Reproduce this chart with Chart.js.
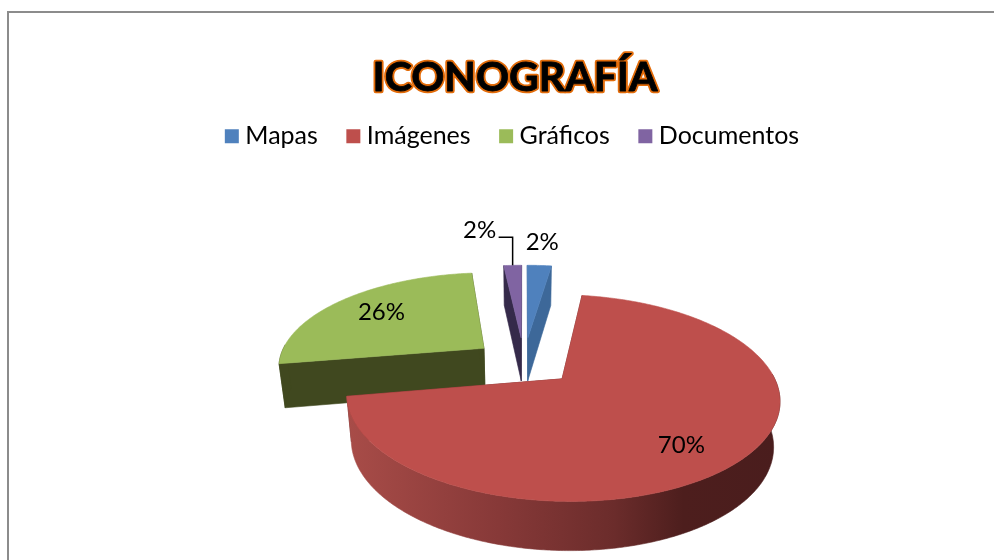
<!DOCTYPE html>
<html lang="es">
<head>
    <meta charset="UTF-8">
    <title>Iconografía</title>
    <script src="https://cdn.jsdelivr.net/npm/chart.js"></script>
    <style>
        html, body { margin: 0; padding: 0; background: #fff; overflow: hidden; }
        body { width: 994px; height: 560px; position: relative; }
        .frame { position: absolute; left: 7px; top: 11px; width: 1100px; height: 700px; border: 2px solid #8c8c8c; }
        canvas { position: absolute; left: 0; top: 0; }
    </style>
</head>
<body>
    <div class="frame"></div>
    <canvas id="pie" width="994" height="560"></canvas>
    <script>
        const categories = ['Mapas', 'Imágenes', 'Gráficos', 'Documentos'];
        const values = [2.3, 70, 26, 1.7];
        const chartTitle = 'ICONOGRAFÍA';

        const topColors = ['#4F81BD', '#BE4F4C', '#9BBB59', '#8064A2'];
        const sideColors = ['#3D6899', '#6B2C2B', '#40481F', '#352A4A'];
        // explosion of each slice, % of the radius
        const explode = [27, 25, 25, 27];
        // where each % label sits: fraction of the radius along the slice middle, then a nudge in px
        const labelRadius = [1.3, 0.8, 0.7, 1.3];
        const labelNudge = [[0, -5], [-21, 4], [-1, -1], [-31, -17]];

        // fake 3D view of the flat pie
        const view = { x: 524, y: 362, rx: 206, ry: 93.6, persp: 0.18, depth: 44, shrink: 0.975 };
        const titleFont = 'bold 41px Lato';

        function project(arc, angle, frac, low) {
            const off = (arc.options.offset || 0) / 100;
            const mid = (arc.startAngle + arc.endAngle) / 2;
            const u = off * Math.cos(mid) + frac * Math.cos(angle);
            const v = -(off * Math.sin(mid) + frac * Math.sin(angle));
            const w = 1 + view.persp * v;
            let x = view.rx * u / w;
            let y = -view.ry * v / w;
            if (low) {
                x *= view.shrink;
                y += view.depth / (1 + view.persp * v / 2);
            }
            return [view.x + x, view.y + y];
        }

        function fillPoly(ctx, pts, fill) {
            ctx.beginPath();
            pts.forEach((p, i) => i ? ctx.lineTo(p[0], p[1]) : ctx.moveTo(p[0], p[1]));
            ctx.closePath();
            ctx.fillStyle = fill;
            ctx.strokeStyle = fill;
            ctx.lineWidth = 0.6;
            ctx.fill();
            ctx.stroke();
        }

        function drawSlice(ctx, arc, i) {
            const a0 = arc.startAngle, a1 = arc.endAngle;
            const steps = Math.max(4, Math.ceil((a1 - a0) * 90));
            const da = (a1 - a0) / steps;

            // the two cut faces
            [a0, a1].forEach(a => {
                fillPoly(ctx, [project(arc, a, 0), project(arc, a, 1), project(arc, a, 1, true), project(arc, a, 0, true)], sideColors[i]);
            });

            // outer wall as one band, front part only
            let wallFill = sideColors[i];
            if (i === 1) {
                wallFill = ctx.createLinearGradient(348, 0, 778, 0);
                wallFill.addColorStop(0, '#A84C48');
                wallFill.addColorStop(0.35, '#873938');
                wallFill.addColorStop(0.62, '#6B2C2B');
                wallFill.addColorStop(0.78, '#4D1E1D');
                wallFill.addColorStop(1, '#4A1D1D');
            }
            const rim = [], upper = [], lower = [];
            for (let s = 0; s <= steps; s++) {
                const a = a0 + s * da;
                rim.push(project(arc, a, 1));
                if (Math.sin(a) > -0.05) {
                    upper.push(project(arc, a, 1));
                    lower.unshift(project(arc, a, 1, true));
                }
            }
            if (upper.length > 1) fillPoly(ctx, upper.concat(lower), wallFill);

            // top face
            fillPoly(ctx, [project(arc, a0, 0)].concat(rim), arc.options.backgroundColor);
        }

        const pie3d = {
            id: 'pie3d',
            beforeDraw(chart) {
                // orange rim under the title, the title plugin fills it black afterwards
                const t = chart.titleBlock;
                const ctx = chart.ctx;
                const pad = t.options.padding;
                ctx.save();
                ctx.font = titleFont;
                ctx.textAlign = 'center';
                ctx.textBaseline = 'middle';
                ctx.lineJoin = 'round';
                const x = (t.left + t.right) / 2;
                const y = t.top + pad.top + (t.bottom - pad.bottom - t.top - pad.top) / 2;
                ctx.strokeStyle = '#E36C0A';
                ctx.lineWidth = 4.5;
                ctx.strokeText(chartTitle, x, y);
                ctx.strokeStyle = '#000';
                ctx.lineWidth = 0.8;
                ctx.strokeText(chartTitle, x, y);
                ctx.restore();
            },
            beforeDatasetDraw(chart, args) {
                const ctx = chart.ctx;
                const arcs = args.meta.data;
                ctx.save();
                [3, 0, 2, 1].forEach(i => drawSlice(ctx, arcs[i], i));

                const total = values.reduce((a, b) => a + b, 0);
                ctx.font = '24px Lato';
                ctx.fillStyle = '#000';
                ctx.textAlign = 'center';
                ctx.textBaseline = 'middle';
                arcs.forEach((arc, i) => {
                    const mid = (arc.startAngle + arc.endAngle) / 2;
                    const p = project(arc, mid, labelRadius[i]);
                    ctx.fillText(Math.round(values[i] / total * 100) + '%', p[0] + labelNudge[i][0], p[1] + labelNudge[i][1]);
                });

                // leader line of the last slice
                const end = project(arcs[3], (arcs[3].startAngle + arcs[3].endAngle) / 2, 1);
                ctx.beginPath();
                ctx.moveTo(end[0], end[1]);
                ctx.lineTo(end[0], end[1] - 28);
                ctx.lineTo(end[0] - 14, end[1] - 28);
                ctx.strokeStyle = '#000';
                ctx.lineWidth = 1.5;
                ctx.stroke();
                ctx.restore();
                return false;
            }
        };

        new Chart(document.getElementById('pie'), {
            type: 'pie',
            data: {
                labels: categories,
                datasets: [{
                    data: values,
                    backgroundColor: topColors,
                    borderWidth: 0,
                    offset: explode
                }]
            },
            options: {
                responsive: false,
                animation: false,
                layout: { padding: { left: 36, top: 28 } },
                plugins: {
                    tooltip: { enabled: false },
                    title: {
                        display: true,
                        text: chartTitle,
                        color: '#000',
                        font: { family: 'Lato', size: 41, weight: 'bold' },
                        padding: { top: 25, bottom: -13 }
                    },
                    legend: {
                        position: 'top',
                        labels: {
                            color: '#000',
                            font: { family: 'Lato', size: 25 },
                            usePointStyle: true,
                            pointStyle: 'rect',
                            boxWidth: 2,
                            boxHeight: 14,
                            padding: 34.5
                        }
                    }
                }
            },
            plugins: [pie3d]
        });
    </script>
</body>
</html>
